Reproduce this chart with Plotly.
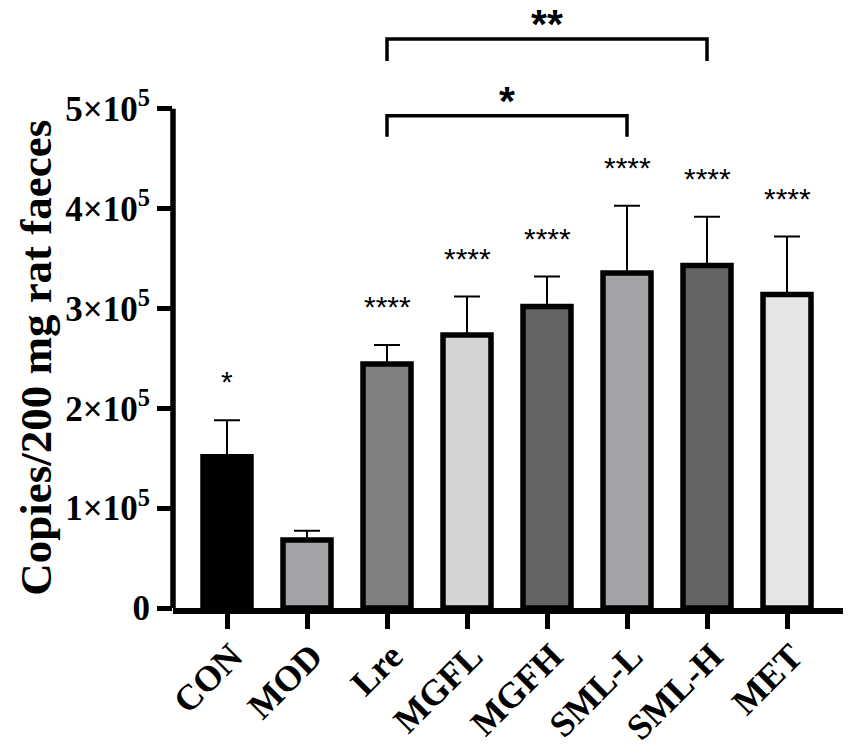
import plotly.graph_objects as go

# ---- data ----
groups = ["CON", "MOD", "Lre", "MGFL", "MGFH", "SML-L", "SML-H", "MET"]
means = [1.515e5, 0.68e5, 2.445e5, 2.735e5, 3.02e5, 3.355e5, 3.43e5, 3.14e5]
sd_up = [0.365e5, 0.095e5, 0.19e5, 0.385e5, 0.30e5, 0.675e5, 0.49e5, 0.58e5]
stars = ["*", "", "****", "****", "****", "****", "****", "****"]
bar_colors = ["#000000", "#a3a3a7", "#808080", "#d4d4d4",
              "#646464", "#a3a3a7", "#646464", "#e5e5e5"]

# comparison brackets: (from, to, label, height, foot height)
comparisons = [("Lre", "SML-L", "*", 4.93e5, 4.72e5),
               ("Lre", "SML-H", "**", 5.70e5, 5.48e5)]

ytick_vals = [0, 1e5, 2e5, 3e5, 4e5, 5e5]
ytick_text = ["0", "1×10<sup>5</sup>", "2×10<sup>5</sup>", "3×10<sup>5</sup>",
              "4×10<sup>5</sup>", "5×10<sup>5</sup>"]

serif = "Liberation Serif"
sans = "Liberation Sans"

fig = go.Figure()

fig.add_trace(go.Bar(
    x=groups, y=means,
    width=0.6,
    marker=dict(color=bar_colors, line=dict(color="black", width=5.5)),
    error_y=dict(type="data", symmetric=False, array=sd_up,
                 arrayminus=[0] * len(sd_up),
                 color="black", thickness=2, width=13),
    showlegend=False,
))

# significance stars above each bar
for g, m, s, st in zip(groups, means, sd_up, stars):
    if st:
        fig.add_annotation(x=g, y=m + s, text=st, showarrow=False,
                           yanchor="bottom", yshift=20,
                           font=dict(family=sans, size=30, color="black"))

# comparison brackets
for a, b, lab, yl, yf in comparisons:
    fig.add_trace(go.Scatter(
        x=[a, a, b, b], y=[yf, yl, yl, yf], mode="lines",
        line=dict(color="black", width=3.5), showlegend=False,
        hoverinfo="skip",
    ))
    mid = (groups.index(a) + groups.index(b)) / 2
    fig.add_annotation(x=mid, y=yl, text=lab, showarrow=False,
                       yanchor="top", yshift=39, borderpad=0,
                       font=dict(family=sans, size=41, color="black",
                                 weight="bold"))

# y axis line only from 0 to 5x10^5
fig.add_shape(type="line", xref="paper", x0=0, x1=0,
              yref="y", y0=0, y1=ytick_vals[-1],
              line=dict(color="black", width=5.5))

fig.add_annotation(xref="paper", yref="paper", x=-0.205, y=0.418,
                   xanchor="center", yanchor="middle",
                   text="Copies/200 mg rat faeces", textangle=-90,
                   showarrow=False,
                   font=dict(family=serif, size=45, color="black",
                             weight="bold"))

# page body has an 8px margin, so the figure is 8px smaller each way
fig.update_layout(
    width=843, height=737,
    margin=dict(l=165, r=6, t=1, b=137),
    plot_bgcolor="white", paper_bgcolor="white",
    xaxis=dict(
        range=[-0.675, 7.725], automargin=False,
        showline=True, linecolor="black", linewidth=5.5,
        ticks="outside", ticklen=15, tickwidth=5, tickcolor="black",
        tickangle=-45, ticklabelstandoff=-8, ticklabelshift=5,
        tickfont=dict(family=serif, size=36, color="black", weight="bold"),
        showgrid=False, zeroline=False,
    ),
    yaxis=dict(
        range=[0, 6.0e5], automargin=False,
        tickvals=ytick_vals, ticktext=ytick_text,
        showline=False,
        ticks="outside", ticklen=15, tickwidth=5, tickcolor="black",
        tickfont=dict(family=serif, size=35, color="black", weight="bold"),
        showgrid=False, zeroline=False,
    ),
)

fig.write_html("out.html")
